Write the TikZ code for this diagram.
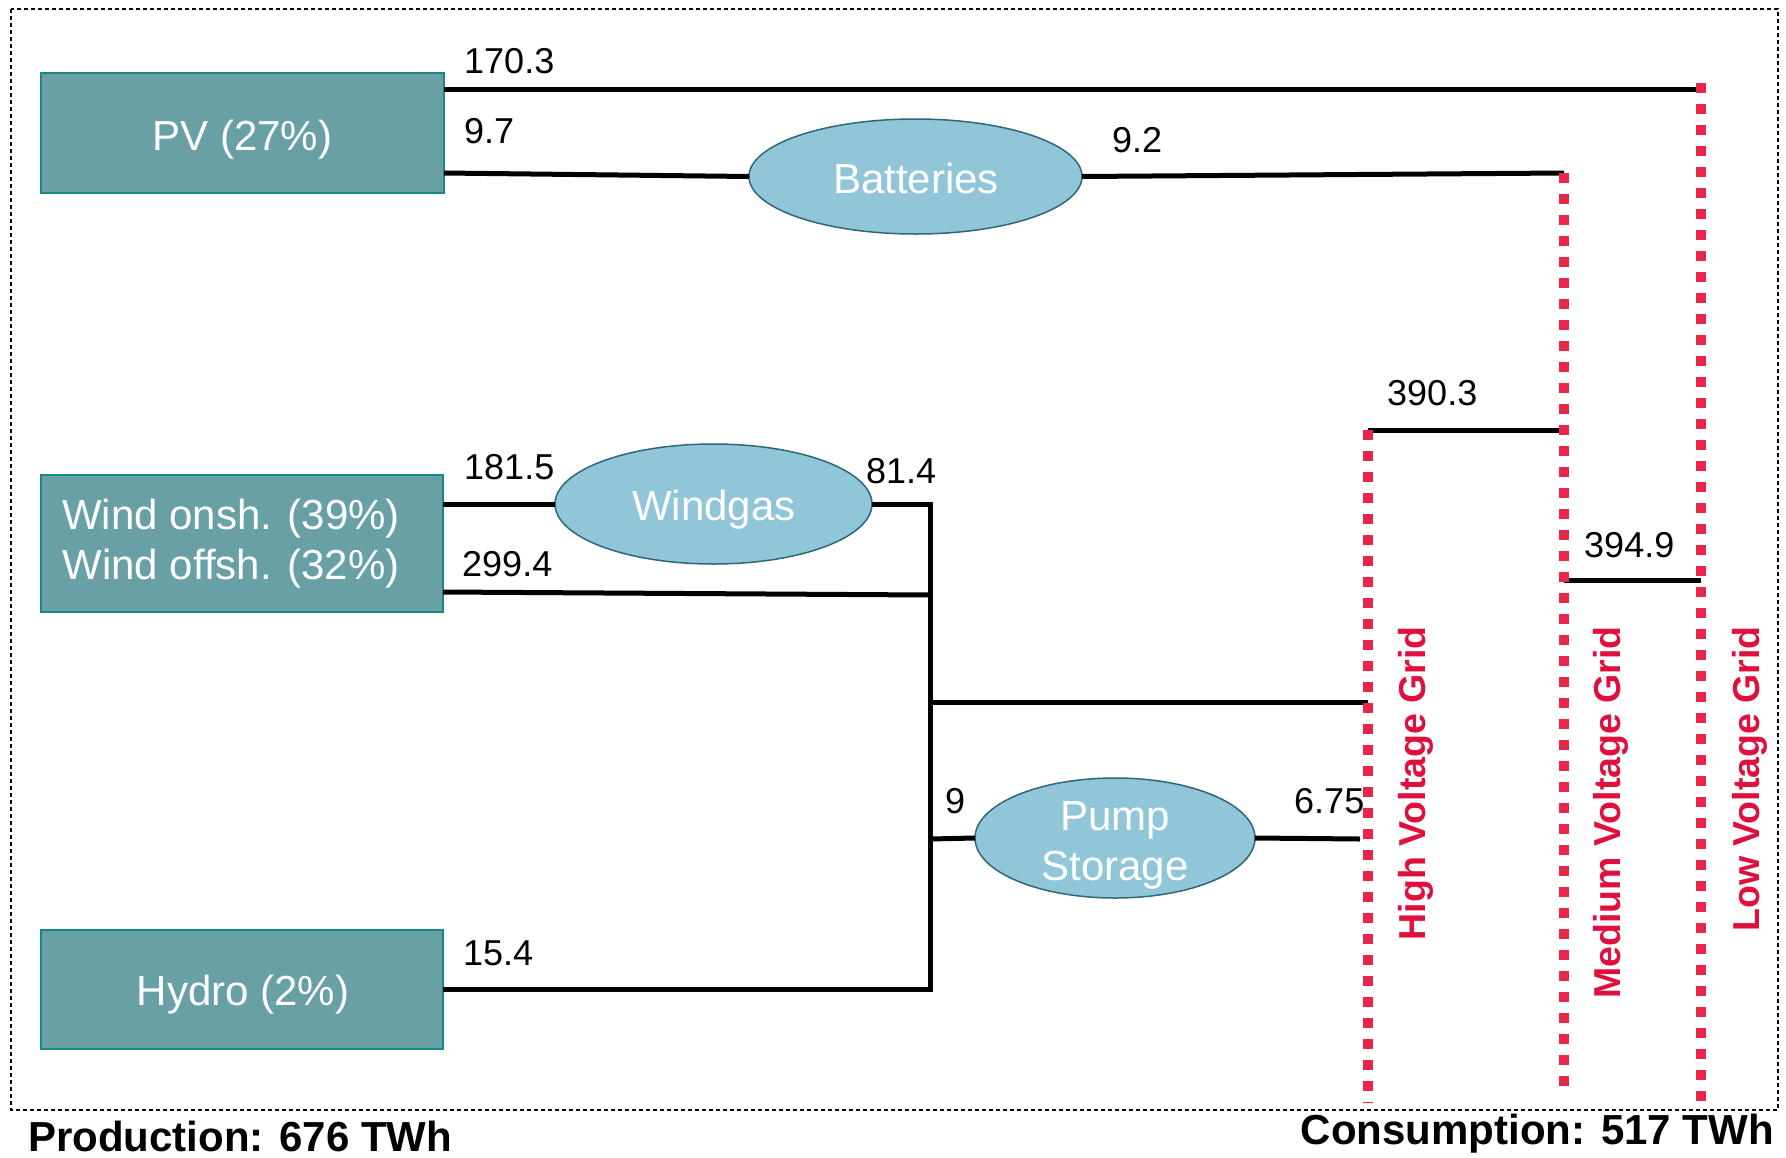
\documentclass[tikz,border=0pt]{standalone}
\usepackage{fontspec}
\setmainfont{Liberation Sans}
\usetikzlibrary{shapes.geometric}
\definecolor{boxfill}{HTML}{68A0A6}
\definecolor{boxline}{HTML}{178787}
\definecolor{ellfill}{HTML}{90C6D8}
\definecolor{ellline}{HTML}{2F6679}
\definecolor{gridred}{HTML}{E8264B}
\definecolor{gridtext}{HTML}{E0103E}
\begin{document}
\begin{tikzpicture}[x=1pt,y=-1pt,
  source/.style={draw=boxline, line width=2pt, fill=boxfill,
    inner sep=0pt, outer sep=0pt},
  store/.style={ellipse, draw=ellline, line width=1.5pt, fill=ellfill,
    inner sep=0pt, outer sep=0pt},
  whitelbl/.style={text=white, inner sep=0pt, anchor=base,
    font=\fontsize{42}{48}\selectfont},
  flow/.style={line width=5pt, black},
  gridline/.style={gridred, line width=10pt, dash pattern=on 10pt off 11pt},
  val/.style={font=\fontsize{36}{40}\selectfont, inner sep=0pt, anchor=base west},
  gridlbl/.style={text=gridtext, font=\bfseries\fontsize{37.5}{40}\selectfont,
    rotate=90, anchor=base east, inner sep=0pt},
  total/.style={font=\bfseries\fontsize{42}{46}\selectfont, inner sep=0pt}]
\useasboundingbox (0,0) rectangle (1786,1157);
% frame
\draw[line width=1.5pt, dash pattern=on 4pt off 3pt] (11,9) rectangle (1778,1110);

% sources
\node[source, minimum width=403pt, minimum height=120pt] (pv) at (242.5,133) {};
\node[whitelbl] (pvtxt) at (242.5,150) {PV (27\%)};
\node[source, minimum width=402pt, minimum height=137pt] (wind) at (242,543.5) {};
\node[whitelbl] (windtxta) at (231,529) {Wind onsh. (39\%)};
\node[whitelbl] (windtxtb) at (231,579) {Wind offsh. (32\%)};
\node[source, minimum width=402pt, minimum height=119pt] (hydro) at (242,989.5) {};
\node[whitelbl] (hydrotxt) at (243,1005) {Hydro (2\%)};

% storages
\node[store, minimum width=333pt, minimum height=115pt] (batt) at (915.5,176.5) {};
\node[whitelbl] (batttxt) at (916,193) {Batteries};
\node[store, minimum width=317pt, minimum height=120pt] (windgas) at (713.5,504) {};
\node[whitelbl] (windgastxt) at (714,520) {Windgas};
\node[store, minimum width=280pt, minimum height=120pt] (pump) at (1115,838) {};
\node[whitelbl] (pumptxta) at (1115,830) {Pump};
\node[whitelbl] (pumptxtb) at (1115,880) {Storage};

% grid bus points
\coordinate (lvtop) at (1701,83);
\coordinate (lvbot) at (1701,1110);
\coordinate (lvin) at (1701,89);
\coordinate (mvtop) at (1564,173);
\coordinate (mvbot) at (1564,1095);
\coordinate (hvtop) at (1368,430);
\coordinate (hvbot) at (1368,1103);
\coordinate (mvhv) at (1564,430);
\coordinate (mvlv) at (1564,580);
\coordinate (lvmv) at (1701,580);
\coordinate (hvbus) at (1368,702);
\coordinate (hvpump) at (1360,839);
% collecting bus
\coordinate (bustop) at (930,504);
\coordinate (busoff) at (930,595);
\coordinate (busout) at (930,702);
\coordinate (buspump) at (930,839);
\coordinate (busbot) at (930,989.5);

% flows
\draw[flow] (pv.east |- lvin) -- (lvin);
\draw[flow] (pv.east |- mvtop) -- (batt.west);
\draw[flow] (batt.east) -- (mvtop);
\draw[flow] (wind.east |- windgas.west) -- (windgas.west);
\draw[flow] (windgas.east) -- (bustop);
\draw[flow] (wind.east |- 0,592) -- (busoff);
\draw[flow] (hydro.east) -- (busbot);
\draw[flow, line cap=rect] (bustop) -- (busbot);
\draw[flow] (busout) -- (hvbus);
\draw[flow] (buspump) -- (pump.west);
\draw[flow] (pump.east) -- (hvpump);
\draw[flow] (hvtop) -- (mvhv);
\draw[flow] (mvlv) -- (lvmv);

% grid levels
\draw[gridline] (hvtop) -- (hvbot);
\draw[gridline] (mvtop) -- (mvbot);
\draw[gridline] (lvtop) -- (lvbot);

% flow values
\node[val] (v1703) at (464,73) {170.3};
\node[val] (v97) at (464,143) {9.7};
\node[val] (v92) at (1112,152) {9.2};
\node[val] (v1815) at (464,479) {181.5};
\node[val] (v814) at (866,483) {81.4};
\node[val] (v2994) at (462,576) {299.4};
\node[val] (v154) at (463,965) {15.4};
\node[val] (v9) at (945,813) {9};
\node[val] (v675) at (1294,813) {6.75};
\node[val] (v3903) at (1387,405) {390.3};
\node[val] (v3949) at (1584,557) {394.9};

% grid names
\node[gridlbl] (hvname) at (1425,626) {High Voltage Grid};
\node[gridlbl] (mvname) at (1620,626) {Medium Voltage Grid};
\node[gridlbl] (lvname) at (1759,626) {Low Voltage Grid};

% totals
\node[total, anchor=base west] (prod) at (28,1151) {Production: 676 TWh};
\node[total, anchor=base east] (cons) at (1774,1144) {Consumption: 517 TWh};
\end{tikzpicture}
\end{document}
